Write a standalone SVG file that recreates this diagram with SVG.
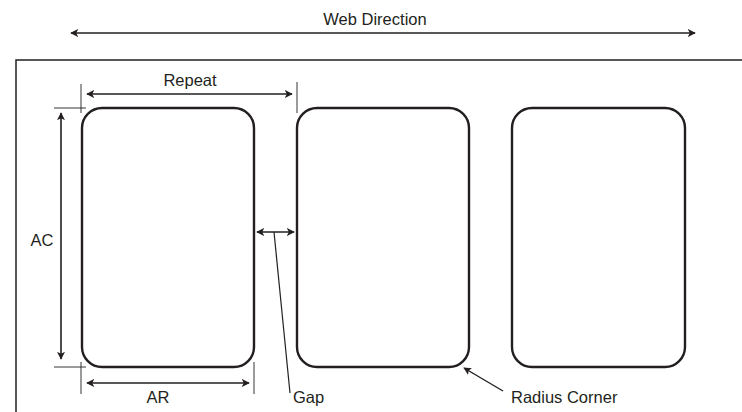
<svg xmlns="http://www.w3.org/2000/svg" width="742" height="412" viewBox="0 0 742 412">
<style>
.lbl{font-family:"Liberation Sans",Arial,sans-serif;font-size:16.5px;fill:#231f20}
.card{fill:none;stroke:#231f20;stroke-width:2.4}
.dim{stroke:#231f20;stroke-width:1.6;fill:none}
.tick{stroke:#231f20;stroke-width:0.9;fill:none}
.frame{stroke:#231f20;stroke-width:1.5;fill:none}
</style>
<defs>
<marker id="ah" viewBox="0 0 10 10" refX="9" refY="5" markerWidth="8" markerHeight="8" orient="auto-start-reverse" markerUnits="userSpaceOnUse">
<path d="M0,0 L10,5 L0,10 L2.5,5 Z" fill="#231f20"/>
</marker>
</defs>
<rect width="742" height="412" fill="#fff"/>
<path class="frame" d="M16,412 V60 H742"/>
<g id="card1"><rect class="card" x="82" y="108" width="172" height="259" rx="20"/></g>
<g id="card2"><rect class="card" x="297" y="108" width="172" height="259" rx="20"/></g>
<g id="card3"><rect class="card" x="512" y="108" width="173" height="259" rx="20"/></g>
<g id="connectors">
<line class="dim" x1="71" y1="33" x2="695" y2="33" marker-start="url(#ah)" marker-end="url(#ah)"/>
<line class="tick" x1="81" y1="84" x2="81" y2="113"/>
<line class="tick" x1="297" y1="82" x2="297" y2="113"/>
<line class="tick" x1="54" y1="108" x2="86" y2="108"/>
<line class="dim" x1="87" y1="94" x2="292" y2="94" marker-start="url(#ah)" marker-end="url(#ah)"/>
<line class="dim" x1="61" y1="113" x2="61" y2="359" marker-start="url(#ah)" marker-end="url(#ah)"/>
<line class="tick" x1="54" y1="367" x2="86" y2="367"/>
<line class="tick" x1="81" y1="362" x2="81" y2="394"/>
<line class="tick" x1="254" y1="362" x2="254" y2="394"/>
<line class="dim" x1="87" y1="383" x2="249" y2="383" marker-start="url(#ah)" marker-end="url(#ah)"/>
<line class="dim" x1="257" y1="232" x2="294" y2="232" marker-start="url(#ah)" marker-end="url(#ah)"/>
<line class="tick" x1="274" y1="232" x2="290" y2="393" style="stroke-width:1.2"/>
<line class="dim" x1="503" y1="391" x2="464" y2="368" marker-end="url(#ah)" style="stroke-width:1.4"/>
</g>
<text class="lbl" x="375" y="25" text-anchor="middle">Web Direction</text>
<text class="lbl" x="190" y="86" text-anchor="middle">Repeat</text>
<text class="lbl" x="42" y="246" text-anchor="middle">AC</text>
<text class="lbl" x="158" y="403" text-anchor="middle">AR</text>
<text class="lbl" x="293" y="403">Gap</text>
<text class="lbl" x="511" y="403">Radius Corner</text>
</svg>
